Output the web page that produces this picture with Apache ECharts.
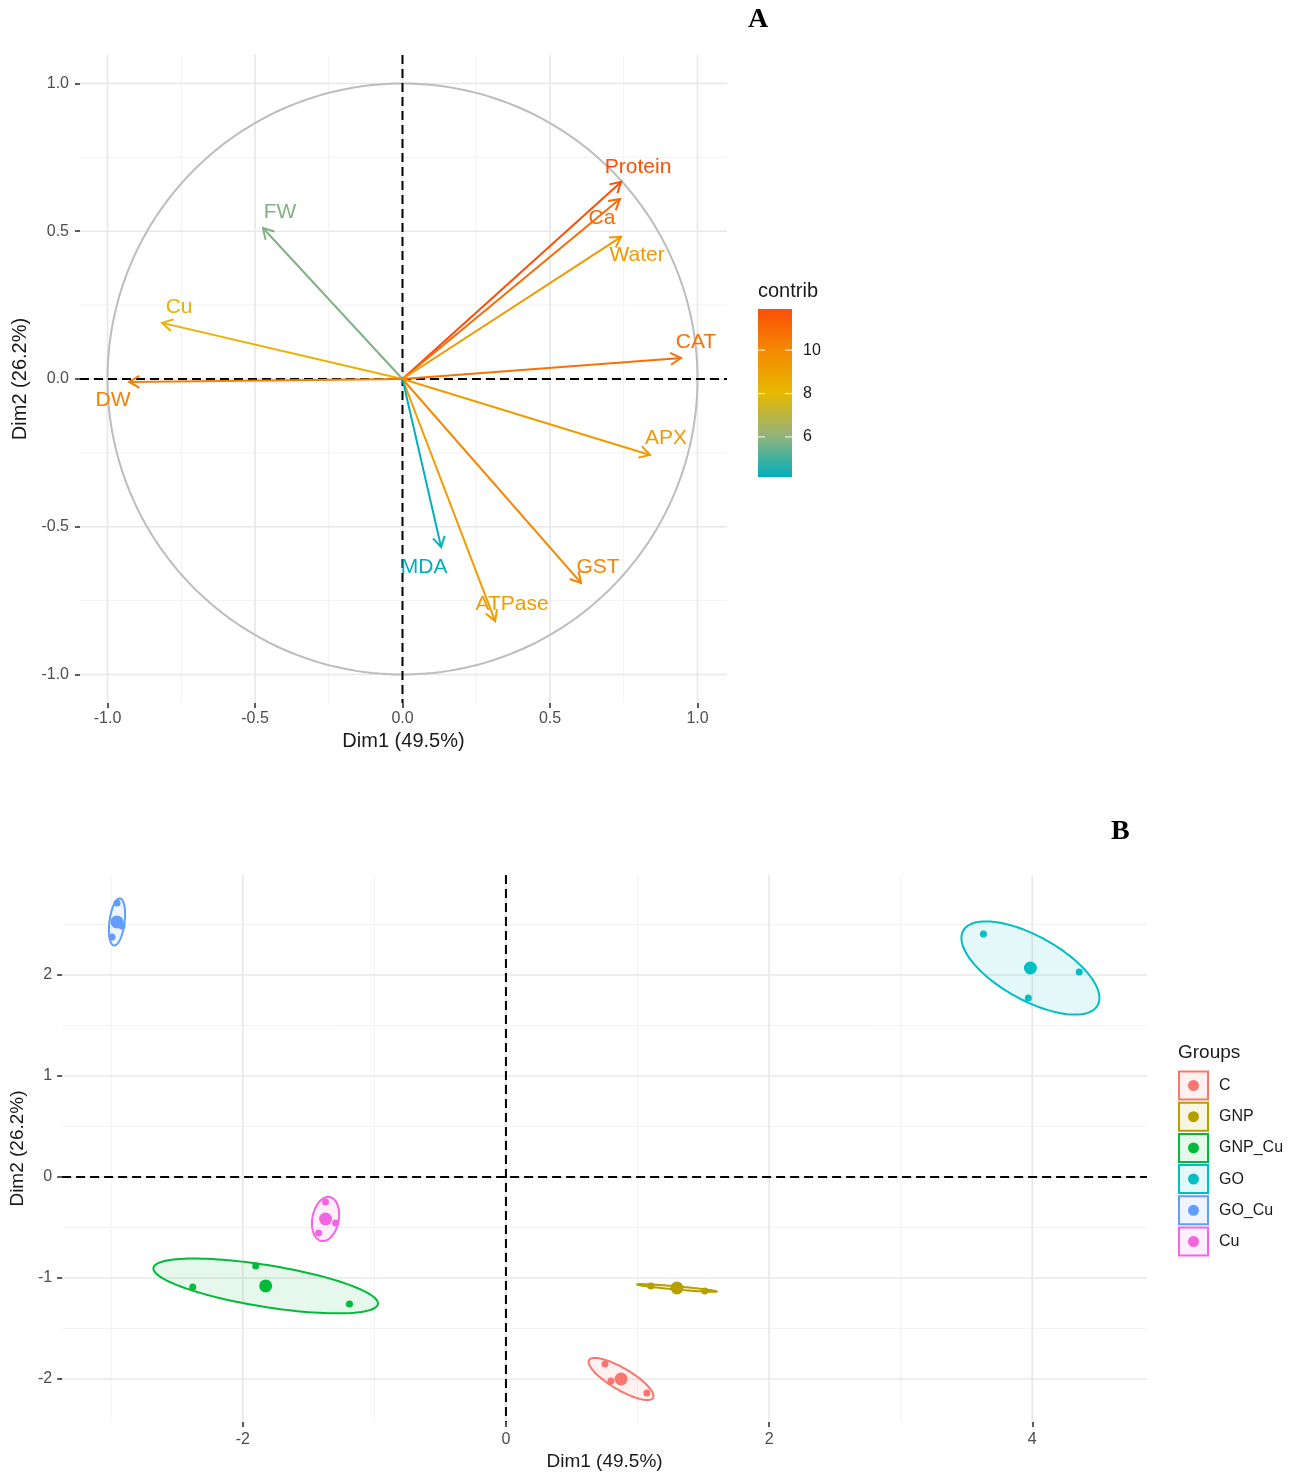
<!DOCTYPE html>
<html>
<head>
<meta charset="utf-8">
<title>PCA</title>
<script src="https://cdn.jsdelivr.net/npm/echarts@6/dist/echarts.min.js"></script>
<style>
  html, body { margin: 0; padding: 0; background: #fff; }
  #chart { width: 1293px; height: 1473px; }
</style>
</head>
<body>
<div id="chart"></div>
<script>
// ---- Panel A: variables (correlation circle) ----
const varNames   = ['Protein', 'Ca', 'Water', 'CAT', 'APX', 'GST', 'ATPase', 'MDA', 'FW', 'Cu', 'DW'];
const varDim1    = [0.741, 0.737, 0.741, 0.944, 0.839, 0.605, 0.314, 0.131, -0.473, -0.815, -0.927];
const varDim2    = [0.667, 0.609, 0.481, 0.071, -0.257, -0.690, -0.819, -0.569, 0.511, 0.190, -0.010];
const varContrib = [11.9, 10.98, 9.37, 10.76, 9.25, 10.11, 9.24, 4.15, 5.82, 8.41, 10.32];
const contribTicks = [6, 8, 10];

const aTicks = [-1, -0.5, 0, 0.5, 1];
const aMinor = [-0.75, -0.25, 0.25, 0.75];

// ---- Panel B: individuals ----
const groups      = ['C', 'GNP', 'GNP_Cu', 'GO', 'GO_Cu', 'Cu'];
const groupColors = ['#F8766D', '#B79F00', '#00BA38', '#00BFC4', '#619CFF', '#F564E3'];
const indC      = [[0.753, -1.851], [0.798, -2.020], [1.071, -2.139]];
const indGNP    = [[1.102, -1.079], [1.284, -1.089], [1.511, -1.129]];
const indGNP_Cu = [[-1.902, -0.881], [-2.380, -1.089], [-1.189, -1.257]];
const indGO     = [[3.629, 2.406], [4.357, 2.030], [3.970, 1.772]];
const indGO_Cu  = [[-2.956, 2.713], [-2.994, 2.376], [-2.918, 2.485]];
const indCu     = [[-1.371, -0.248], [-1.424, -0.554], [-1.295, -0.455]];
const groupPoints = [indC, indGNP, indGNP_Cu, indGO, indGO_Cu, indCu];
const groupMeans  = [[0.875, -2.000], [1.300, -1.099], [-1.826, -1.079], [3.986, 2.069], [-2.956, 2.525], [-1.371, -0.416]];
// conjugate semi-axes of each group's ellipse, in Dim units
const ellipseAxisU = [[0.243, -0.187], [0.303, -0.035], [0.853, -0.179], [0.511, -0.369], [0.023, 0.233], [0.030, 0.218]];
const ellipseAxisV = [[-0.042, -0.092], [0.000, -0.016], [-0.025, -0.204], [-0.118, -0.277], [0.057, -0.010], [0.099, -0.020]];

const bTicksX = [-2, 0, 2, 4];
const bMinorX = [-3, -1, 1, 3];
const bTicksY = [-2, -1, 0, 1, 2];
const bMinorY = [-1.5, -0.5, 0.5, 1.5, 2.5];

// label placement around the arrow tips (pixels)
const labelNudge = {
  Protein: [17, -15], Ca: [-18, 19], Water: [16, 18], CAT: [15, -16], APX: [16, -17],
  GST: [17, -16], ATPase: [17, -17], MDA: [-17, 20], FW: [17, -16], Cu: [17, -16], DW: [-16, 18]
};

const FONT = '"Liberation Sans", Arial, Helvetica, sans-serif';
const TICK_GREY = '#4D4D4D';
// contribution colour ramp (low -> high), with perceptual in-between stops
const contribRamp = ['#00AFBB', '#95B37A', '#E7B800', '#F48A02', '#FC4E07'];

const chart = echarts.init(document.getElementById('chart'), null, { renderer: 'canvas' });

function gridLineData(xMajor, xMinor, yMajor, yMinor) {
  const d = [];
  xMinor.forEach(v => d.push([v, 0, 0]));
  yMinor.forEach(v => d.push([v, 1, 0]));
  xMajor.forEach(v => d.push([v, 0, 1]));
  yMajor.forEach(v => d.push([v, 1, 1]));
  return d;
}

function renderGridLine(params, api) {
  const cs = params.coordSys;
  const v = api.value(0), dir = api.value(1), major = api.value(2);
  let shape;
  if (dir === 0) {
    const x = api.coord([v, 0])[0];
    shape = { x1: x, y1: cs.y, x2: x, y2: cs.y + cs.height };
  } else {
    const y = api.coord([0, v])[1];
    shape = { x1: cs.x, y1: y, x2: cs.x + cs.width, y2: y };
  }
  return {
    type: 'line', shape: shape, silent: true,
    style: { stroke: major ? '#E8E8E8' : '#F2F2F2', lineWidth: major ? 1.7 : 1 }
  };
}

function renderZeroLine(params, api) {
  const cs = params.coordSys;
  const dir = api.value(1);
  let shape;
  if (dir === 0) {
    const x = api.coord([0, 0])[0];
    shape = { x1: x, y1: cs.y, x2: x, y2: cs.y + cs.height };
  } else {
    const y = api.coord([0, 0])[1];
    shape = { x1: cs.x, y1: y, x2: cs.x + cs.width, y2: y };
  }
  return {
    type: 'line', shape: shape, silent: true,
    style: { stroke: '#000', lineWidth: 2, lineDash: [9, 5] }
  };
}

function renderCircle(params, api) {
  const pts = [];
  const n = 240;
  for (let k = 0; k <= n; k++) {
    const t = 2 * Math.PI * k / n;
    pts.push(api.coord([Math.cos(t), Math.sin(t)]));
  }
  return { type: 'polyline', shape: { points: pts }, silent: true,
           style: { stroke: '#BDBDBD', lineWidth: 2, fill: 'none' } };
}

function renderArrow(params, api) {
  const o = api.coord([0, 0]);
  const p = api.coord([api.value(0), api.value(1)]);
  const color = api.visual('color');
  const ang = Math.atan2(p[1] - o[1], p[0] - o[0]);
  const L = 12, A = Math.PI / 6;
  const h1 = [p[0] - L * Math.cos(ang - A), p[1] - L * Math.sin(ang - A)];
  const h2 = [p[0] - L * Math.cos(ang + A), p[1] - L * Math.sin(ang + A)];
  const name = varNames[params.dataIndex];
  const nudge = labelNudge[name];
  return {
    type: 'group',
    children: [
      { type: 'line', shape: { x1: o[0], y1: o[1], x2: p[0], y2: p[1] },
        style: { stroke: color, lineWidth: 2 } },
      { type: 'polyline', shape: { points: [h1, p, h2] },
        style: { stroke: color, lineWidth: 2, fill: 'none' } },
      { type: 'text', x: p[0] + nudge[0], y: p[1] + nudge[1],
        style: { text: name, fill: color, fontSize: 21, fontFamily: FONT,
                 align: 'center', verticalAlign: 'middle' } }
    ]
  };
}

function renderEllipse(params, api) {
  const cx = api.value(0), cy = api.value(1);
  const ux = api.value(2), uy = api.value(3), vx = api.value(4), vy = api.value(5);
  const color = groupColors[api.value(6)];
  const pts = [];
  const n = 120;
  for (let k = 0; k < n; k++) {
    const t = 2 * Math.PI * k / n;
    const c = Math.cos(t), s = Math.sin(t);
    pts.push(api.coord([cx + ux * c + vx * s, cy + uy * c + vy * s]));
  }
  return {
    type: 'polygon', shape: { points: pts }, silent: true,
    style: { fill: echarts.color.modifyAlpha(color, 0.1), stroke: color, lineWidth: 2 }
  };
}

const arrowData = varNames.map((n, i) => [varDim1[i], varDim2[i], varContrib[i]]);
const ellipseData = groups.map((g, i) => [
  groupMeans[i][0], groupMeans[i][1],
  ellipseAxisU[i][0], ellipseAxisU[i][1],
  ellipseAxisV[i][0], ellipseAxisV[i][1], i
]);

const cMin = Math.min.apply(null, varContrib);
const cMax = Math.max.apply(null, varContrib);

// axis shared styling
function axisCommon(ticks, fmt, fontSize, margin, nameSize) {
  return {
    axisLine: { show: false, onZero: false },
    splitLine: { show: false },
    axisTick: { show: true, length: 5, customValues: ticks, lineStyle: { color: '#333', width: 1.6 } },
    axisLabel: { customValues: ticks, formatter: fmt, color: TICK_GREY, fontSize: fontSize,
                 fontFamily: FONT, margin: margin },
    nameTextStyle: { color: '#1A1A1A', fontFamily: FONT, fontSize: nameSize }
  };
}
const fmt1 = v => Number(v).toFixed(1);
const fmt0 = v => String(Math.round(v));

const series = [
  // panel A
  { type: 'custom', xAxisIndex: 0, yAxisIndex: 0, renderItem: renderGridLine,
    data: gridLineData(aTicks, aMinor, aTicks, aMinor), z: 0, silent: true },
  { type: 'custom', xAxisIndex: 0, yAxisIndex: 0, renderItem: renderCircle, data: [[0, 0]], z: 1, silent: true },
  { type: 'custom', xAxisIndex: 0, yAxisIndex: 0, renderItem: renderZeroLine, data: [[0, 0], [0, 1]], z: 2, silent: true },
  { type: 'custom', xAxisIndex: 0, yAxisIndex: 0, renderItem: renderArrow, data: arrowData,
    encode: { x: 0, y: 1 }, z: 3, silent: true },
  // panel B
  { type: 'custom', xAxisIndex: 1, yAxisIndex: 1, renderItem: renderGridLine,
    data: gridLineData(bTicksX, bMinorX, bTicksY, bMinorY), z: 0, silent: true },
  { type: 'custom', xAxisIndex: 1, yAxisIndex: 1, renderItem: renderZeroLine, data: [[0, 0], [0, 1]], z: 1, silent: true },
  { type: 'custom', xAxisIndex: 1, yAxisIndex: 1, renderItem: renderEllipse, data: ellipseData,
    encode: { x: 0, y: 1 }, z: 2, silent: true }
];
const ARROW_SERIES = 3;

groups.forEach((g, i) => {
  series.push({
    type: 'scatter', name: g, xAxisIndex: 1, yAxisIndex: 1, z: 3,
    symbolSize: 7, data: groupPoints[i], itemStyle: { color: groupColors[i], opacity: 1 }, silent: true
  });
  series.push({
    type: 'scatter', name: g + ' mean', xAxisIndex: 1, yAxisIndex: 1, z: 4,
    symbolSize: 13, data: [groupMeans[i]], itemStyle: { color: groupColors[i], opacity: 1 }, silent: true
  });
});

// colour bar and group legend drawn as graphic elements
const cbX = 758, cbY = 309, cbW = 34, cbH = 168;
const rampStops = contribRamp.map((c, i) => ({ offset: 1 - i / (contribRamp.length - 1), color: c })).reverse();
const graphics = [
  { type: 'text', left: 748, top: 6, style: { text: 'A', fontSize: 28, fontWeight: 'bold',
      fontFamily: '"Liberation Serif", "Times New Roman", serif', fill: '#000' } },
  { type: 'text', left: 1111, top: 818, style: { text: 'B', fontSize: 28, fontWeight: 'bold',
      fontFamily: '"Liberation Serif", "Times New Roman", serif', fill: '#000' } },
  { type: 'text', x: cbX, y: 291, style: { text: 'contrib', fontSize: 20, fontFamily: FONT,
      fill: '#1A1A1A', verticalAlign: 'middle' } },
  { type: 'rect', shape: { x: cbX, y: cbY, width: cbW, height: cbH },
    style: { fill: { type: 'linear', x: 0, y: 0, x2: 0, y2: 1, colorStops: rampStops } } }
];
contribTicks.forEach(v => {
  const y = cbY + (cMax - v) / (cMax - cMin) * cbH;
  graphics.push({ type: 'line', shape: { x1: cbX, y1: y, x2: cbX + 7, y2: y }, style: { stroke: '#fff', lineWidth: 1.2, opacity: 0.8 } });
  graphics.push({ type: 'line', shape: { x1: cbX + cbW - 7, y1: y, x2: cbX + cbW, y2: y }, style: { stroke: '#fff', lineWidth: 1.2, opacity: 0.8 } });
  graphics.push({ type: 'text', x: 803, y: y, style: { text: String(v), fontSize: 16, fontFamily: FONT,
      fill: '#1A1A1A', verticalAlign: 'middle' } });
});

graphics.push({ type: 'text', x: 1178, y: 1053, style: { text: 'Groups', fontSize: 19, fontFamily: FONT,
    fill: '#1A1A1A', verticalAlign: 'middle' } });
groups.forEach((g, i) => {
  const yc = 1085.5 + i * 31.2;
  graphics.push({ type: 'rect', shape: { x: 1179, y: yc - 14, width: 29, height: 28 },
    style: { fill: echarts.color.modifyAlpha(groupColors[i], 0.1), stroke: groupColors[i], lineWidth: 2 } });
  graphics.push({ type: 'circle', shape: { cx: 1193.5, cy: yc, r: 5.5 }, style: { fill: groupColors[i] } });
  graphics.push({ type: 'text', x: 1219, y: yc, style: { text: g, fontSize: 16, fontFamily: FONT,
      fill: '#1A1A1A', verticalAlign: 'middle' } });
});

const option = {
  animation: false,
  backgroundColor: '#fff',
  textStyle: { fontFamily: FONT },
  grid: [
    { left: 80, top: 55, width: 647, height: 648 },
    { left: 60, top: 875, width: 1087, height: 547 }
  ],
  xAxis: [
    Object.assign({ type: 'value', gridIndex: 0, min: -1.0932, max: 1.1,
      name: 'Dim1 (49.5%)', nameLocation: 'middle', nameGap: 28 },
      axisCommon(aTicks, fmt1, 16, 8, 20)),
    Object.assign({ type: 'value', gridIndex: 1, min: -3.373, max: 4.872,
      name: 'Dim1 (49.5%)', nameLocation: 'middle', nameGap: 30 },
      axisCommon(bTicksX, fmt0, 16, 10, 19))
  ],
  yAxis: [
    Object.assign({ type: 'value', gridIndex: 0, min: -1.0964, max: 1.0964,
      name: 'Dim2 (26.2%)', nameLocation: 'middle', nameGap: 45 },
      axisCommon(aTicks, fmt1, 16, 11, 20)),
    Object.assign({ type: 'value', gridIndex: 1, min: -2.426, max: 2.990,
      name: 'Dim2 (26.2%)', nameLocation: 'middle', nameGap: 24 },
      axisCommon(bTicksY, fmt0, 16, 10, 19))
  ],
  visualMap: [{
    type: 'continuous', show: false, seriesIndex: ARROW_SERIES, dimension: 2,
    min: cMin, max: cMax, inRange: { color: contribRamp }
  }],
  graphic: graphics,
  series: series
};

chart.setOption(option);
</script>
</body>
</html>
